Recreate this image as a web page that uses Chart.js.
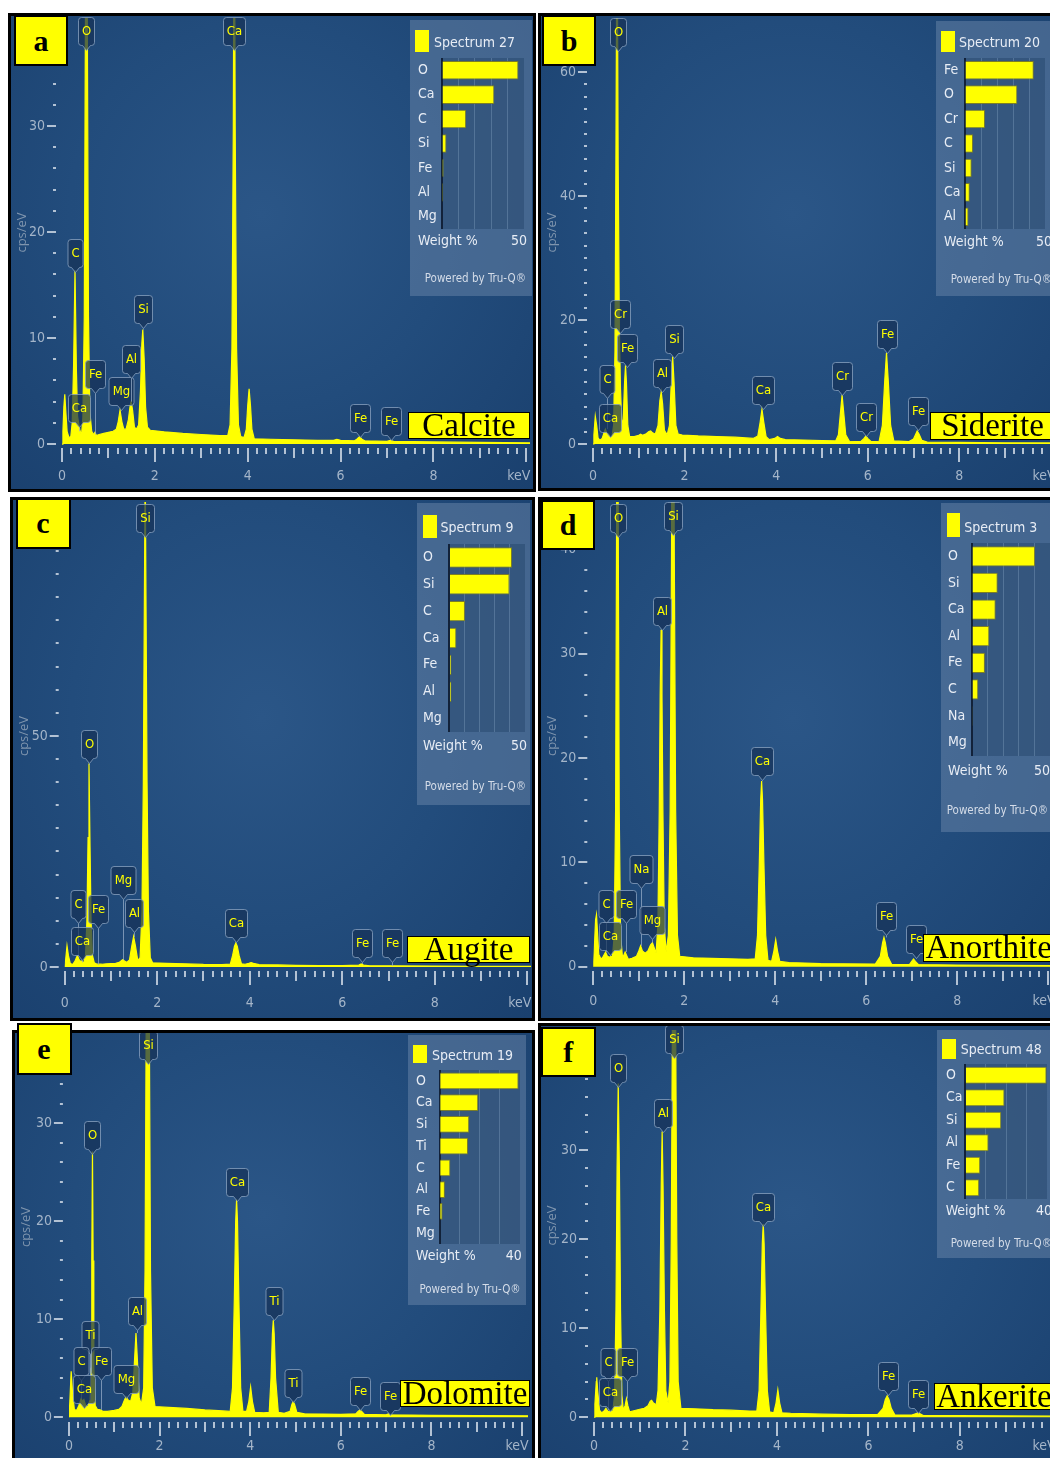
<!DOCTYPE html>
<html>
<head>
<meta charset="utf-8">
<title>EDS spectra</title>
<script src="https://cdn.jsdelivr.net/npm/chart.js@4.4.1/dist/chart.umd.min.js"></script>
<style>
  html, body { margin: 0; padding: 0; background: #fff; }
  body { position: relative; width: 1050px; height: 1458px; overflow: hidden; }
  .panel { position: absolute; box-sizing: border-box; border: 3px solid #000; overflow: hidden;
    background: radial-gradient(ellipse at 48% 42%, #2b5687 0%, #224c7c 50%, #1a406e 100%); }
  .panel canvas { position: absolute; left: 0; top: 0; }
  .inset { position: absolute; background: rgba(100,130,165,0.55); }
  .bars { position: absolute; }
  .sq { position: absolute; background: #ffff00; }
  .txt { position: absolute; white-space: nowrap; line-height: 18px;
    font-family: 'Liberation Sans Narrow', 'DejaVu Sans Condensed', Roboto, sans-serif; }
  .letter { position: absolute; box-sizing: border-box; background: #ffff00; border: 2px solid #000;
    font: bold 30px 'Liberation Serif', 'Times New Roman', serif; color: #000;
    display: flex; align-items: center; justify-content: center; }
  .mineral { position: absolute; box-sizing: border-box; background: #ffff00; border: 1.5px solid #000;
    font-family: 'Liberation Serif', 'Times New Roman', serif; font-size: 33px; color: #000; text-align: center; }
</style>
</head>
<body>
<script>
const NARROW = "'Liberation Sans Narrow','DejaVu Sans Condensed',Roboto,sans-serif";
const YEL = '#ffff00';
const TICK = '#b3c2d4';
const TICKTXT = '#a4b5c9';

// spectra: [keV, cps/eV]
const specCalcite = [[0,0],[0.02,1.2],[0.04,3.5],[0.06,4.7],[0.08,3.2],[0.11,1.2],[0.15,0.6],[0.19,0.7],[0.22,2],[0.25,7.5],[0.28,16.4],[0.31,7],[0.335,2.6],[0.35,2.2],[0.38,1.4],[0.42,0.8],[0.45,2.5],[0.48,12],[0.50,35],[0.525,62],[0.55,35],[0.57,12],[0.60,3],[0.64,1.2],[0.68,0.9],[0.71,1.1],[0.74,0.8],[0.8,0.9],[0.9,1.0],[1.0,1.1],[1.1,1.2],[1.17,1.4],[1.21,2.1],[1.25,3.2],[1.29,2.1],[1.33,1.4],[1.38,1.4],[1.43,2.3],[1.47,3.7],[1.49,4.0],[1.52,3.2],[1.56,1.6],[1.60,1.4],[1.65,1.8],[1.69,5],[1.72,9.5],[1.74,10.8],[1.77,8],[1.80,3.5],[1.84,1.6],[1.9,1.3],[2.2,1.15],[2.6,1.0],[3.0,0.9],[3.4,0.8],[3.57,0.8],[3.62,1.8],[3.66,9],[3.69,30],[3.71,60],[3.73,30],[3.76,9],[3.80,1.8],[3.85,0.7],[3.92,0.6],[3.97,1.4],[4.0,3.6],[4.03,5.2],[4.06,3.6],[4.09,1.4],[4.14,0.5],[4.5,0.45],[5.0,0.4],[5.5,0.35],[5.85,0.35],[5.92,0.45],[6.0,0.35],[6.3,0.3],[6.35,0.45],[6.41,0.7],[6.46,0.45],[6.52,0.3],[7.0,0.25],[7.07,0.35],[7.14,0.25],[8,0.2],[9,0.15],[10.2,0.12]];
const specSiderite = [[0,0],[0.02,1.5],[0.05,4.5],[0.08,3],[0.11,1],[0.15,0.6],[0.2,0.9],[0.24,1.8],[0.27,2.4],[0.30,1.8],[0.34,1.6],[0.37,1.2],[0.41,0.9],[0.45,3],[0.48,15],[0.50,45],[0.525,90],[0.55,45],[0.575,19],[0.60,9],[0.63,3],[0.66,4],[0.69,10],[0.71,12.7],[0.73,10],[0.76,3],[0.80,1.2],[0.9,1.2],[1.0,1.4],[1.04,1.6],[1.08,1.4],[1.15,1.6],[1.22,2.0],[1.26,2.1],[1.30,1.8],[1.36,1.6],[1.42,3],[1.46,7],[1.49,8.4],[1.52,6.5],[1.56,2.2],[1.62,1.5],[1.67,3],[1.71,10],[1.74,14.1],[1.77,10],[1.81,3],[1.86,1.6],[1.95,1.45],[2.3,1.3],[2.7,1.2],[3.1,1.1],[3.5,0.9],[3.60,1.3],[3.65,3.5],[3.69,5.6],[3.73,3.5],[3.78,1.2],[3.85,0.7],[3.97,0.9],[4.03,1.2],[4.09,0.9],[4.2,0.7],[4.6,0.65],[5.0,0.55],[5.3,0.5],[5.36,1.5],[5.41,5.5],[5.44,7.9],[5.47,5.5],[5.52,1.5],[5.6,0.45],[5.85,0.4],[5.92,0.9],[5.96,1.3],[6.0,0.9],[6.07,0.4],[6.25,0.45],[6.32,3],[6.37,10],[6.41,14.7],[6.45,10],[6.50,3],[6.57,0.5],[6.9,0.4],[7.0,0.8],[7.05,1.6],[7.08,2.1],[7.12,1.6],[7.18,0.6],[7.3,0.3],[8,0.25],[9,0.2],[10.2,0.18]];
const specAugite = [[0,0],[0.02,1.5],[0.05,4.6],[0.08,2.5],[0.12,0.8],[0.17,0.5],[0.22,1.2],[0.26,2.2],[0.28,2.4],[0.31,1.6],[0.34,1.2],[0.37,1.3],[0.41,0.8],[0.45,2.5],[0.48,10],[0.505,28],[0.525,44],[0.545,28],[0.57,10],[0.60,2.5],[0.64,0.9],[0.70,0.6],[0.74,0.6],[0.8,0.6],[0.9,0.7],[1.0,0.75],[1.1,0.8],[1.18,1.0],[1.23,1.4],[1.26,1.6],[1.29,1.3],[1.34,1.0],[1.40,1.5],[1.45,4.5],[1.49,6.6],[1.53,4.5],[1.58,1.4],[1.63,2],[1.67,12],[1.70,40],[1.72,75],[1.74,110],[1.76,75],[1.78,40],[1.81,12],[1.85,2],[1.9,0.9],[2.2,0.8],[2.6,0.7],[3.0,0.55],[3.4,0.5],[3.58,0.6],[3.63,2.5],[3.67,4.5],[3.70,5.2],[3.73,4.5],[3.77,2.5],[3.82,0.7],[3.9,0.6],[3.98,0.8],[4.03,0.95],[4.08,0.8],[4.2,0.5],[4.6,0.45],[5.0,0.35],[5.5,0.3],[6.0,0.3],[6.36,0.4],[6.41,0.65],[6.46,0.4],[6.6,0.25],[7.06,0.25],[8,0.2],[9,0.15],[10.2,0.12]];
const specAnorthite = [[0,0],[0.02,1.5],[0.05,4.5],[0.07,5.0],[0.09,3.5],[0.12,1.2],[0.17,0.7],[0.22,1.0],[0.27,1.4],[0.31,1.0],[0.36,0.9],[0.39,1.0],[0.42,0.9],[0.46,3],[0.49,15],[0.51,40],[0.53,70],[0.55,40],[0.57,15],[0.60,3],[0.64,1.0],[0.67,1.1],[0.70,1.4],[0.73,1.1],[0.77,0.7],[0.85,0.8],[0.95,1.0],[1.0,1.5],[1.04,2.0],[1.08,1.5],[1.14,1.3],[1.2,1.5],[1.26,2.1],[1.30,2.3],[1.34,1.8],[1.38,1.3],[1.42,4],[1.45,15],[1.47,26],[1.49,32.3],[1.51,26],[1.53,15],[1.56,4],[1.60,1.4],[1.65,3],[1.69,15],[1.72,40],[1.74,70],[1.76,70],[1.78,40],[1.81,15],[1.85,3],[1.9,1.0],[2.2,0.85],[2.6,0.8],[3.0,0.75],[3.4,0.7],[3.56,0.75],[3.61,3],[3.65,10],[3.68,16],[3.70,17.8],[3.72,16],[3.75,10],[3.79,3],[3.84,0.6],[3.92,0.5],[3.97,1.5],[4.01,2.6],[4.05,1.5],[4.1,0.5],[4.3,0.4],[5.0,0.3],[5.5,0.28],[6.2,0.25],[6.31,1.0],[6.36,2.3],[6.39,2.8],[6.42,2.3],[6.47,1.0],[6.56,0.2],[6.95,0.2],[7.0,0.5],[7.04,0.74],[7.08,0.5],[7.15,0.2],[8,0.15],[9,0.12],[10.2,0.1]];
const specDolomite = [[0,0],[0.02,1.5],[0.05,4.7],[0.08,2.5],[0.12,0.8],[0.17,0.7],[0.22,1.2],[0.27,1.9],[0.30,1.6],[0.33,1.8],[0.37,1.2],[0.41,1.0],[0.44,1.4],[0.47,1.8],[0.49,5],[0.505,16],[0.52,27.1],[0.535,16],[0.55,5],[0.58,1.2],[0.63,0.8],[0.69,0.75],[0.75,0.6],[0.85,0.6],[1.0,0.7],[1.1,0.8],[1.17,1.1],[1.22,1.7],[1.26,2.1],[1.30,1.8],[1.36,1.6],[1.41,2.5],[1.45,6],[1.48,8.6],[1.51,6],[1.55,2],[1.60,1.3],[1.65,3],[1.68,15],[1.71,45],[1.74,60],[1.77,45],[1.80,15],[1.84,3],[1.9,1.1],[2.2,1.0],[2.6,0.9],[3.0,0.75],[3.4,0.65],[3.56,0.6],[3.61,3],[3.65,12],[3.68,20],[3.70,22.2],[3.72,20],[3.75,12],[3.79,3],[3.84,0.6],[3.92,0.6],[3.97,1.6],[4.01,3.1],[4.05,1.6],[4.1,0.5],[4.3,0.45],[4.42,0.5],[4.46,4],[4.49,8.5],[4.51,9.9],[4.53,8.5],[4.56,4],[4.62,0.5],[4.75,0.4],[4.88,0.6],[4.92,1.3],[4.95,1.6],[4.98,1.3],[5.03,0.5],[5.2,0.35],[6.0,0.3],[6.33,0.35],[6.38,0.6],[6.42,0.75],[6.46,0.6],[6.52,0.3],[7.0,0.25],[7.05,0.35],[7.1,0.25],[8,0.2],[9,0.18],[10.2,0.15]];
const specAnkerite = [[0,0],[0.02,1.5],[0.05,4.0],[0.06,4.5],[0.08,3],[0.12,0.8],[0.17,0.5],[0.22,0.7],[0.26,1.0],[0.30,0.7],[0.34,0.6],[0.37,0.7],[0.41,0.6],[0.45,2.5],[0.48,12],[0.505,28],[0.53,37.5],[0.555,28],[0.58,12],[0.61,2.5],[0.64,0.8],[0.68,1.3],[0.71,2.1],[0.74,1.3],[0.78,0.6],[0.85,0.7],[1.0,0.9],[1.1,1.0],[1.18,1.3],[1.23,1.8],[1.26,1.9],[1.30,1.6],[1.36,1.4],[1.40,3],[1.44,12],[1.47,26],[1.49,32.1],[1.51,26],[1.54,12],[1.57,3],[1.62,1.6],[1.66,4],[1.69,20],[1.72,50],[1.75,65],[1.78,50],[1.81,20],[1.84,4],[1.9,1.0],[2.2,0.95],[2.6,0.85],[3.0,0.8],[3.4,0.7],[3.56,0.7],[3.61,3],[3.65,12],[3.68,19.5],[3.70,21.7],[3.72,19.5],[3.75,12],[3.79,3],[3.84,0.6],[3.93,0.5],[3.98,1.6],[4.02,3.1],[4.06,1.6],[4.11,0.5],[4.3,0.45],[5.0,0.35],[5.6,0.3],[6.2,0.3],[6.32,1.0],[6.37,2.0],[6.41,2.4],[6.45,2.0],[6.50,1.0],[6.58,0.25],[6.95,0.25],[7.03,0.4],[7.08,0.5],[7.13,0.4],[7.2,0.2],[8,0.18],[9,0.15],[10.2,0.12]];

// peak tags: [element, keV, peak cps, cps at bottom of the tag box]
const tagsCalcite = [['O',0.52,37.6,37.6],['Ca',3.71,37.6,37.6],['C',0.28,16.1,16.7],['Ca',0.36,1.2,2.1],['Fe',0.70,0.9,5.3],['Mg',1.26,3.2,3.7],['Al',1.49,4.0,6.7],['Si',1.74,10.8,11.4],['Fe',6.41,0.7,1.1],['Fe',7.08,0.3,0.85]];
const tagsSiderite = [['O',0.55,64.2,64.2],['Cr',0.60,18.2,18.7],['Fe',0.74,12.7,13.2],['C',0.31,2.4,8.2],['Ca',0.37,1.2,2.0],['Al',1.51,8.4,9.2],['Si',1.77,14.1,14.6],['Ca',3.71,5.6,6.45],['Cr',5.44,7.9,8.7],['Cr',5.96,1.3,2.1],['Fe',6.42,14.6,15.5],['Fe',7.09,2.1,3.1]];
const tagsAugite = [['Si',1.74,94.2,94.2],['O',0.53,43.7,45.2],['C',0.28,2.4,10.6],['Fe',0.72,0.5,9.5],['Ca',0.37,1.0,2.6],['Mg',1.26,1.5,15.8],['Al',1.49,6.5,8.7],['Ca',3.70,5.2,6.5],['Fe',6.42,0.65,2.2],['Fe',7.07,0.2,2.2]];
const tagsAnorthite = [['O',0.54,41.7,41.7],['Si',1.76,41.9,41.9],['Al',1.51,32.3,32.8],['Ca',3.71,17.8,18.4],['C',0.28,1.4,4.7],['Fe',0.72,1.4,4.7],['Ca',0.36,1.0,1.6],['Na',1.05,2.0,8.0],['Mg',1.28,2.3,3.1],['Fe',6.44,2.8,3.5],['Fe',7.10,0.74,1.3]];
const tagsDolomite = [['Si',1.75,36.5,36.5],['O',0.52,27.1,27.4],['Ca',3.70,22.2,22.6],['Al',1.50,8.6,9.4],['Ti',4.52,9.9,10.4],['Ti',0.47,1.8,7.0],['C',0.27,1.9,4.3],['Fe',0.71,0.75,4.3],['Ca',0.33,0.9,1.45],['Mg',1.26,2.1,2.5],['Ti',4.95,1.6,2.1],['Fe',6.42,0.75,1.3],['Fe',7.08,0.34,0.75]];
const tagsAnkerite = [['Si',1.76,40.9,40.9],['O',0.53,37.2,37.7],['Al',1.50,32.1,32.6],['Ca',3.70,21.7,22.1],['C',0.30,0.8,4.6],['Fe',0.72,2.1,4.6],['Ca',0.35,0.6,1.3],['Fe',6.42,2.4,3.1],['Fe',7.09,0.5,1.0]];

// weight % insets
const elCalcite = ['O','Ca','C','Si','Fe','Al','Mg'];
const wtCalcite = [46.6, 31.9, 14.7, 2.7, 1.0, 0.7, 0.3];
const elSiderite = ['Fe','O','Cr','C','Si','Ca','Al'];
const wtSiderite = [43, 32.7, 12.5, 5, 4.2, 3, 2.2];
const elAugite = ['O','Si','C','Ca','Fe','Al','Mg'];
const wtAugite = [41.4, 39.8, 10.3, 4.6, 1.3, 1.3, 0.3];
const elAnorthite = ['O','Si','Ca','Al','Fe','C','Na','Mg'];
const wtAnorthite = [40.4, 16.5, 15.2, 11.1, 8.3, 4, 0.5, 0.3];
const elDolomite = ['O','Ca','Si','Ti','C','Al','Fe','Mg'];
const wtDolomite = [39.3, 19.2, 14.7, 14.1, 5.3, 2.6, 1.4, 0.3];
const elAnkerite = ['O','Ca','Si','Al','Fe','C'];
const wtAnkerite = [39.8, 19.2, 17.6, 11.4, 7.3, 6.8];

const xLabels = [0, 2, 4, 6, 8];

const panels = [
  { letter: 'a', mineral: 'Calcite', spectrum: 'Spectrum 27', spec: specCalcite, tags: tagsCalcite, els: elCalcite, wts: wtCalcite, wMax: 50,
    yMajor: 10, yMinor: 2, xMax: 10.08, yMin: -0.28, yMax: 40.19, labPad: 21,
    frame: [8, 13, 528, 479], area: [62, 530, 18, 447], letterBox: [14, 15, 54, 51], nameBox: [408, 412, 122, 27],
    inset: { box: [410, 20, 122, 276], sq: [415, 30, 14, 22], title: [434, 41.5], grid: [418, 442, 524, 57.5, 228.5], wRow: [240, 527], pow: [278, 526] } },
  { letter: 'b', mineral: 'Siderite', spectrum: 'Spectrum 20', spec: specSiderite, tags: tagsSiderite, els: elSiderite, wts: wtSiderite, wMax: 50,
    yMajor: 20, yMinor: 2, xMax: 10.09, yMin: -0.48, yMax: 68.7, labPad: 21,
    frame: [538, 13, 530, 478], area: [593, 1055, 18, 447], letterBox: [542, 15, 54, 51], nameBox: [930, 412, 125, 28],
    inset: { box: [936, 21, 122, 275], sq: [941, 31, 14, 21], title: [959, 41.5], grid: [944, 965, 1045, 57.5, 228.5], wRow: [241, 1052], pow: [279, 1052] } },
  { letter: 'c', mineral: 'Augite', spectrum: 'Spectrum 9', spec: specAugite, tags: tagsAugite, els: elAugite, wts: wtAugite, wMax: 50,
    yMajor: 50, yMinor: 5, xMax: 10.08, yMin: -0.65, yMax: 100.6, labPad: 25,
    frame: [10, 497, 525, 524], area: [64.7, 531, 502, 970], letterBox: [15.5, 497.7, 55, 51.3], nameBox: [407, 936, 123, 27],
    inset: { box: [417, 503, 113, 302], sq: [423, 515, 14, 23], title: [440.5, 526.7], grid: [423, 449.4, 525, 544, 732.3], wRow: [745, 527], pow: [786, 526] } },
  { letter: 'd', mineral: 'Anorthite', spectrum: 'Spectrum 3', spec: specAnorthite, tags: tagsAnorthite, els: elAnorthite, wts: wtAnorthite, wMax: 50,
    yMajor: 10, yMinor: 2, xMax: 10.15, yMin: -0.32, yMax: 44.55, labPad: 23,
    frame: [538, 497, 530, 524], area: [593.3, 1055, 502, 970], letterBox: [541, 500, 54, 50], nameBox: [922.7, 934, 132, 28],
    inset: { box: [941, 503, 122, 329], sq: [946.7, 513, 13.3, 24], title: [964.3, 526.7], grid: [948, 972, 1050, 543.3, 756.6], wRow: [770, 1050], pow: [810, 1048] } },
  { letter: 'e', mineral: 'Dolomite', spectrum: 'Spectrum 19', spec: specDolomite, tags: tagsDolomite, els: elDolomite, wts: wtDolomite, wMax: 40,
    yMajor: 10, yMinor: 2, xMax: 10.13, yMin: -0.38, yMax: 39.2, labPad: 17,
    frame: [12, 1030, 523, 440], area: [68.9, 528, 1033, 1421], letterBox: [16.5, 1023, 55, 51.7], nameBox: [400, 1380, 130, 27.3],
    inset: { box: [408, 1035, 118, 270], sq: [413, 1045, 14, 18], title: [432, 1054.7], grid: [416, 439.7, 520, 1069.5, 1243.9], wRow: [1255, 521.7], pow: [1289, 520.7] } },
  { letter: 'f', mineral: 'Ankerite', spectrum: 'Spectrum 48', spec: specAnkerite, tags: tagsAnkerite, els: elAnkerite, wts: wtAnkerite, wMax: 40,
    yMajor: 10, yMinor: 2, xMax: 10.08, yMin: -0.42, yMax: 43.5, labPad: 17,
    frame: [538, 1023, 530, 447], area: [594, 1055, 1030, 1421], letterBox: [541, 1027, 54.7, 50], nameBox: [934, 1383, 120, 27],
    inset: { box: [936.7, 1029.7, 122, 228], sq: [942, 1038.7, 14, 20], title: [960.7, 1048.7], grid: [945.7, 965, 1047, 1063.5, 1198.5], wRow: [1209.7, 1052], pow: [1243, 1052] } }
];

// small dash ticks on both axes (minor + major), drawn through the chart scales
const axisMarks = {
  id: 'axisMarks',
  afterDraw(chart, args, o) {
    const { ctx, chartArea: a, scales: { x, y } } = chart;
    ctx.save();
    ctx.fillStyle = TICK;
    const ratio = Math.round(o.major / o.minor);
    for (let i = 0; i * o.minor <= y.max; i++) {
      const py = Math.round(y.getPixelForValue(i * o.minor));
      const w = i % ratio === 0 ? 9 : 3;
      ctx.fillRect(a.left - 6 - w, py - 1, w, 2);
    }
    for (let i = 0; i * 0.2 <= x.max + 1e-9; i++) {
      const px = Math.round(x.getPixelForValue(i * 0.2));
      const len = i % 10 === 0 ? 14 : (i % 5 === 0 ? 10 : 6);
      ctx.fillRect(px - 1, a.bottom + 1, 2, len);
    }
    ctx.restore();
  }
};

// element callouts on the peaks
const peakTags = {
  id: 'peakTags',
  afterDatasetsDraw(chart, args, o) {
    const { ctx, scales: { x, y } } = chart;
    ctx.save();
    ctx.font = '13px ' + NARROW;
    ctx.textAlign = 'center';
    ctx.textBaseline = 'middle';
    o.tags.forEach(([el, kev, tip, box]) => {
      const px = Math.round(x.getPixelForValue(kev)) + 0.5;
      const by = Math.round(y.getPixelForValue(box)) + 0.5;
      const ty = y.getPixelForValue(tip);
      const w = Math.round(ctx.measureText(el).width) + 7, h = 28, r = 3;
      if (ty > by + 5) {
        ctx.strokeStyle = 'rgba(150,172,200,0.75)';
        ctx.lineWidth = 1;
        ctx.beginPath(); ctx.moveTo(px, by + 5); ctx.lineTo(px, ty); ctx.stroke();
      }
      const l = px - w / 2, t = by - h, rr = px + w / 2;
      ctx.beginPath();
      ctx.moveTo(l + r, t);
      ctx.lineTo(rr - r, t); ctx.quadraticCurveTo(rr, t, rr, t + r);
      ctx.lineTo(rr, by - r); ctx.quadraticCurveTo(rr, by, rr - r, by);
      ctx.lineTo(px + 4, by); ctx.lineTo(px, by + 5); ctx.lineTo(px - 4, by);
      ctx.lineTo(l + r, by); ctx.quadraticCurveTo(l, by, l, by - r);
      ctx.lineTo(l, t + r); ctx.quadraticCurveTo(l, t, l + r, t);
      ctx.closePath();
      ctx.fillStyle = 'rgba(22,50,88,0.72)';
      ctx.fill();
      ctx.strokeStyle = 'rgba(135,160,190,0.8)';
      ctx.lineWidth = 1;
      ctx.stroke();
      ctx.fillStyle = YEL;
      ctx.fillText(el, px, t + h / 2);
    });
    ctx.restore();
  }
};

const gridBg = {
  id: 'gridBg',
  beforeDraw(chart) {
    const { ctx, chartArea: a } = chart;
    ctx.save();
    ctx.fillStyle = 'rgba(40,72,112,0.55)';
    ctx.fillRect(a.left, a.top, a.right - a.left, a.bottom - a.top);
    ctx.restore();
  }
};

function box(cls, x, y, w, h) {
  const d = document.createElement('div');
  d.className = cls;
  Object.assign(d.style, { left: x + 'px', top: y + 'px', width: w + 'px', height: h + 'px' });
  document.body.appendChild(d);
  return d;
}

function text(str, x, yc, size, color, align) {
  const d = document.createElement('div');
  d.className = 'txt';
  d.textContent = str;
  d.style.fontSize = size + 'px';
  d.style.color = color;
  d.style.top = (yc - 9) + 'px';
  if (align === 'right') {
    d.style.left = (x - 300) + 'px';
    d.style.width = '300px';
    d.style.textAlign = 'right';
  } else {
    d.style.left = x + 'px';
  }
  document.body.appendChild(d);
}

panels.forEach(p => {
  const [fx, fy, fw, fh] = p.frame;
  const panel = box('panel', fx, fy, fw, fh);
  const cx = fx + 3, cy = fy + 3, cw = fw - 6, ch = fh - 6;
  const cv = document.createElement('canvas');
  cv.width = cw; cv.height = ch;
  panel.appendChild(cv);
  const [L, R, T, B] = p.area;
  const majors = [];
  for (let v = 0; v <= p.yMax; v += p.yMajor) majors.push(v);

  new Chart(cv, {
    type: 'line',
    data: {
      datasets: [{
        data: p.spec.map(([x, y]) => ({ x, y })),
        borderColor: YEL, backgroundColor: YEL, borderWidth: 1.2,
        pointRadius: 0, fill: 'origin', tension: 0
      }]
    },
    options: {
      responsive: false, animation: false, events: [],
      layout: { autoPadding: false, padding: { left: 0, top: T - cy, right: cx + cw - R, bottom: 0 } },
      plugins: {
        legend: { display: false }, tooltip: { enabled: false },
        axisMarks: { major: p.yMajor, minor: p.yMinor },
        peakTags: { tags: p.tags }
      },
      scales: {
        x: {
          type: 'linear', min: 0, max: p.xMax,
          grid: { display: false, drawTicks: false }, border: { display: false },
          afterFit: s => { s.height = cy + ch - B; s.paddingLeft = 0; s.paddingRight = 0; },
          afterBuildTicks: s => { s.ticks = xLabels.concat([p.xMax - 0.24]).map(v => ({ value: v })); },
          ticks: {
            autoSkip: false, maxRotation: 0, padding: p.labPad, color: TICKTXT,
            font: { family: NARROW, size: 14 },
            callback: v => (v > 9 ? 'keV' : String(v))
          }
        },
        y: {
          type: 'linear', min: p.yMin, max: p.yMax,
          grid: { display: false, drawTicks: false }, border: { display: false },
          afterFit: s => { s.width = L - cx; s.paddingTop = 0; s.paddingBottom = 0; },
          afterBuildTicks: s => { s.ticks = majors.map(v => ({ value: v })); },
          ticks: { autoSkip: false, padding: 17, color: TICKTXT, font: { family: NARROW, size: 14 } },
          title: { display: true, text: 'cps/eV', color: '#7f95ae', padding: { top: 3, bottom: 0 },
                   font: { family: "'Open Sans',sans-serif", size: 13 } }
        }
      }
    },
    plugins: [axisMarks, peakTags]
  });

  // weight % inset
  const ins = p.inset;
  box('inset', ...ins.box);
  box('sq', ...ins.sq);
  text(p.spectrum, ins.title[0], ins.title[1], 14, '#e8edf5');
  const [gl, g0, g1, gt, gb] = ins.grid;
  const bc = document.createElement('canvas');
  bc.className = 'bars';
  bc.width = Math.round(g1 - gl); bc.height = Math.round(gb - gt);
  bc.style.left = gl + 'px'; bc.style.top = gt + 'px';
  document.body.appendChild(bc);
  new Chart(bc, {
    type: 'bar',
    data: {
      labels: p.els,
      datasets: [{ data: p.wts, backgroundColor: YEL, borderColor: 'rgba(130,130,30,0.9)', borderWidth: 1,
                   barPercentage: 0.76, categoryPercentage: 1 }]
    },
    options: {
      indexAxis: 'y', responsive: false, animation: false, events: [],
      layout: { autoPadding: false, padding: 0 },
      plugins: { legend: { display: false }, tooltip: { enabled: false } },
      scales: {
        x: {
          min: 0, max: p.wMax,
          afterFit: s => { s.height = 0; s.paddingLeft = 0; s.paddingRight = 0; },
          afterBuildTicks: s => { const t = []; for (let v = 0; v <= p.wMax; v += 10) t.push({ value: v }); s.ticks = t; },
          ticks: { display: false },
          grid: { color: 'rgba(105,135,170,0.6)', drawTicks: false, lineWidth: 1 },
          border: { display: false }
        },
        y: {
          afterFit: s => { s.width = g0 - gl; s.paddingTop = 0; s.paddingBottom = 0; },
          ticks: { crossAlign: 'far', padding: 0, color: '#e8edf5', font: { family: NARROW, size: 14 } },
          grid: { display: false, drawTicks: false },
          border: { display: true, color: '#12223a', width: 2 }
        }
      }
    },
    plugins: [gridBg]
  });
  text('Weight %', gl, ins.wRow[0], 14, '#e8edf5');
  text(String(p.wMax), ins.wRow[1], ins.wRow[0], 14, '#e8edf5', 'right');
  text('Powered by Tru-Q®', ins.pow[1], ins.pow[0], 11.5, '#d4dce8', 'right');

  // panel letter and mineral name
  const lb = box('letter', ...p.letterBox);
  lb.textContent = p.letter;
  const nb = box('mineral', ...p.nameBox);
  nb.style.lineHeight = (p.nameBox[3] - 3) + 'px';
  nb.textContent = p.mineral;
});
</script>
</body>
</html>
